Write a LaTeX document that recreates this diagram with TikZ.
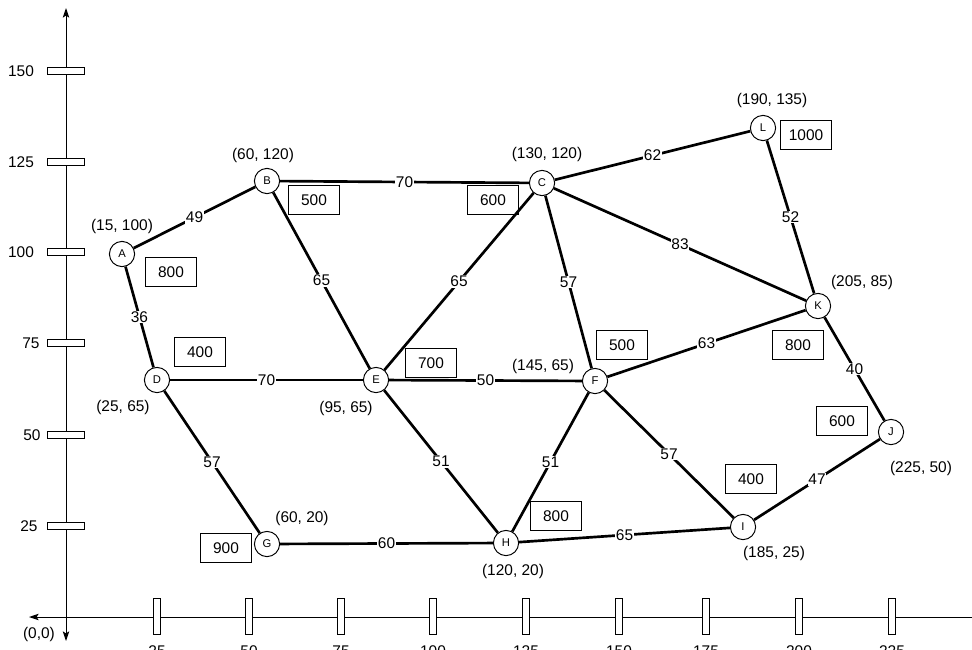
\documentclass[tikz,border=0pt]{standalone}
\usepackage{fontspec}
\setmainfont{Liberation Sans}
\usetikzlibrary{arrows.meta}

\begin{document}
\begin{tikzpicture}[x=0.025cm,y=-0.025cm,font=\fontsize{11}{13}\selectfont,
  city/.style={draw,circle,fill=white,line width=0.7pt,minimum size=0.63cm,inner sep=0pt,font=\fontsize{8}{9}\selectfont},
  cost/.style={draw,line width=0.8pt,minimum width=1.29cm,minimum height=0.72cm,inner sep=0pt},
  road/.style={line width=1.9pt},
  dist/.style={fill=white,inner sep=0.6pt,pos=0.5},
  tickbox/.style={draw,fill=white,line width=0.7pt},
  axis/.style={line width=0.7pt}]
\useasboundingbox (0,0) rectangle (972,650);
% axes
\draw[axis,{Stealth[length=2.4mm,width=1.6mm,inset=0.5mm]}-{Stealth[length=2.4mm,width=1.6mm,inset=0.5mm]}] (66,641)--(66,8);
\draw[axis,-{Stealth[length=2.4mm,width=1.6mm,inset=0.5mm]}] (972,617)--(29,617);
\node (origin) at (39,634) {(0,0)};
\foreach \v/\px in {25/157,50/249,75/341,100/433,125/526,150/619,175/706,200/799,225/892}{
  \draw[tickbox] (\px-3.5,598) rectangle (\px+3.5,634);
  \node at (\px,651) {\v};
}
\foreach \v/\lx/\py in {150/21/71,125/21/162,100/21/252,75/31/343,50/32/435,25/29/526}{
  \draw[tickbox] (47,\py-3.5) rectangle (84,\py+3.5);
  \node at (\lx,\py) {\v};
}
% cities
\node[city] (A) at (122,254) {A};
\node[city] (B) at (267,181) {B};
\node[city] (C) at (542,183) {C};
\node[city] (D) at (157,380) {D};
\node[city] (E) at (376,380) {E};
\node[city] (F) at (595,381) {F};
\node[city] (G) at (267,544) {G};
\node[city] (H) at (506,543) {H};
\node[city] (I) at (743,527) {I};
\node[city] (J) at (891,432) {J};
\node[city] (K) at (818,306) {K};
\node[city] (L) at (763,128) {L};
% roads
\draw[road] (A) -- node[dist]{49} (B);
\draw[road] (B) -- node[dist]{70} (C);
\draw[road] (A) -- node[dist]{36} (D);
\draw[road] (B) -- node[dist]{65} (E);
\draw[road] (D) -- node[dist]{70} (E);
\draw[road] (E) -- node[dist]{65} (C);
\draw[road] (E) -- node[dist]{50} (F);
\draw[road] (C) -- node[dist]{57} (F);
\draw[road] (C) -- node[dist]{62} (L);
\draw[road] (C) -- node[dist]{83} (K);
\draw[road] (L) -- node[dist]{52} (K);
\draw[road] (F) -- node[dist]{63} (K);
\draw[road] (K) -- node[dist]{40} (J);
\draw[road] (D) -- node[dist]{57} (G);
\draw[road] (E) -- node[dist]{51} (H);
\draw[road] (H) -- node[dist]{51} (F);
\draw[road] (F) -- node[dist]{57} (I);
\draw[road] (I) -- node[dist]{47} (J);
\draw[road] (G) -- node[dist]{60} (H);
\draw[road] (H) -- node[dist]{65} (I);
% coordinates
\node (pA) at (122,226) {(15, 100)};
\node (pB) at (263,155) {(60, 120)};
\node (pC) at (547,154) {(130, 120)};
\node (pD) at (123,407) {(25, 65)};
\node (pE) at (346,408) {(95, 65)};
\node (pF) at (543,366) {(145, 65)};
\node (pG) at (302,518) {(60, 20)};
\node (pH) at (513,571) {(120, 20)};
\node (pI) at (774,553) {(185, 25)};
\node (pJ) at (921,468) {(225, 50)};
\node (pK) at (862,282) {(205, 85)};
\node (pL) at (772,100) {(190, 135)};
% costs
\node[cost] (wA) at (171,272) {800};
\node[cost] (wB) at (314,200) {500};
\node[cost] (wC) at (493,200) {600};
\node[cost] (wD) at (200,352) {400};
\node[cost] (wE) at (431,363) {700};
\node[cost] (wF) at (622,345) {500};
\node[cost] (wG) at (226,548) {900};
\node[cost] (wH) at (556,516) {800};
\node[cost] (wI) at (751,479) {400};
\node[cost] (wJ) at (842,421) {600};
\node[cost] (wK) at (798,345) {800};
\node[cost] (wL) at (806,135) {1000};
\end{tikzpicture}
\end{document}
